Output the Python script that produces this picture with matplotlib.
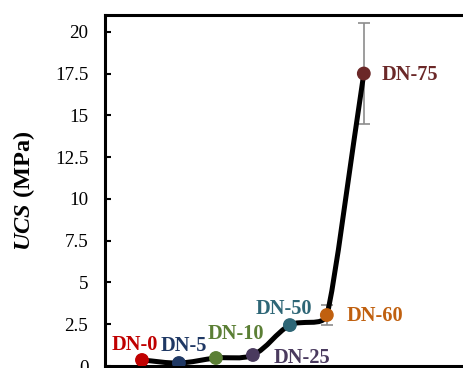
import numpy as np
import matplotlib.pyplot as plt
from matplotlib.path import Path
from matplotlib.patches import PathPatch

plt.rcParams['font.family'] = 'Liberation Serif'
plt.rcParams['mathtext.fontset'] = 'custom'
plt.rcParams['mathtext.rm'] = 'Liberation Serif'
plt.rcParams['mathtext.bfit'] = 'Liberation Serif:italic:bold'

labels = ['DN-0', 'DN-5', 'DN-10', 'DN-25', 'DN-50', 'DN-60', 'DN-75']
ucs = [0.36, 0.18, 0.48, 0.66, 2.45, 3.05, 17.5]
err = [0.0, 0.0, 0.0, 0.0, 0.0, 0.58, 3.0]
colors = ['#C00000', '#1F3864', '#5B7F35', '#4A3A5E', '#2E6676', '#C0600F', '#6B2828']
# label offsets in points (dx, dy)
offsets = [(-5, 10.5), (3.6, 12), (14.4, 17), (35, -2), (-4.3, 11.5), (34.6, -0.7), (33, -1.4)]

x = np.arange(1, len(ucs) + 1)
y = np.array(ucs)

fig = plt.figure(figsize=(4.64, 3.68), dpi=100)
ax = fig.add_axes([0.2263, 0.0054, 0.851, 0.9538])
ax.set_xlim(0, 10.68)
ax.set_ylim(0, 21)

# smoothed line: bezier segments, handles limited by the neighbouring chords
pts = ax.transData.transform(np.column_stack([x, y]))
n = len(pts)
seg = [np.hypot(*(pts[i + 1] - pts[i])) for i in range(n - 1)]
tang = []
for i in range(n):
    d = pts[min(i + 1, n - 1)] - pts[max(i - 1, 0)]
    tang.append(d / np.hypot(*d))

def handle(i, k):
    # handle length at point i on the side of segment k
    other = [seg[j] for j in (i - 1, i) if 0 <= j < n - 1 and j != k]
    lim = 2 * other[0] if other else seg[k]
    return min(seg[k], lim) / 3

verts = [pts[0]]
codes = [Path.MOVETO]
for i in range(n - 1):
    verts += [pts[i] + tang[i] * handle(i, i),
              pts[i + 1] - tang[i + 1] * handle(i + 1, i), pts[i + 1]]
    codes += [Path.CURVE4] * 3
verts = ax.transData.inverted().transform(np.array(verts))
ax.add_patch(PathPatch(Path(verts, codes), fill=False, lw=3.6, color='black',
                       capstyle='round', joinstyle='round', zorder=2))

ax.errorbar(x, y, yerr=err, fmt='none', ecolor='#8C8C8C', elinewidth=1.2,
            capsize=4, capthick=1.2, zorder=1)
ax.scatter(x, y, s=80, c=colors, zorder=3)

for xi, yi, lab, col, off in zip(x, y, labels, colors, offsets):
    ax.annotate(lab, (xi, yi), xytext=off, textcoords='offset points',
                ha='center', va='center', color=col, fontsize=14.7,
                fontweight='bold')

ax.set_yticks([0, 2.5, 5, 7.5, 10, 12.5, 15, 17.5, 20])
ax.set_yticklabels(['0', '2.5', '5', '7.5', '10', '12.5', '15', '17.5', '20'])
ax.set_xticks([])
ax.tick_params(axis='y', direction='in', length=4, width=1.5, labelsize=13.7, pad=12)
for s in ax.spines.values():
    s.set_linewidth(2.2)
ax.set_ylabel(r'$\mathbfit{UCS}$ (MPa)', fontsize=17.5, fontweight='bold', labelpad=13)

fig.savefig('out.png', dpi=100)
